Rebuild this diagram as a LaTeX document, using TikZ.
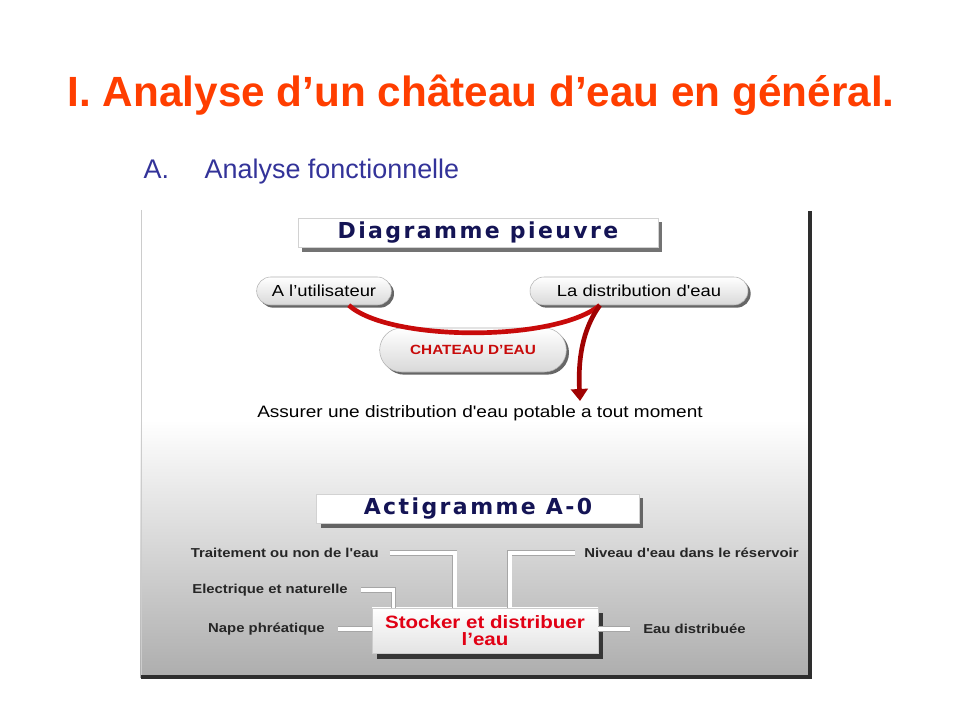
\documentclass[tikz,border=0pt]{standalone}
\usepackage{fontspec}
\setmainfont{Liberation Sans}
\newfontfamily\panelfont{Liberation Sans}[FakeStretch=1.15]
\newfontfamily\headfont{DejaVu Sans}[LetterSpace=11]
\usetikzlibrary{
    shadows,
    shapes.misc,
    arrows.meta,
    calc
}
\definecolor{titleorange}{RGB}{255,62,0}
\definecolor{subblue}{RGB}{51,51,153}
\definecolor{headnavy}{RGB}{20,20,85}
\definecolor{linkred}{RGB}{200,10,10}
\definecolor{darkred}{RGB}{150,0,0}
\definecolor{boxred}{RGB}{225,0,20}
\tikzset {
    head box/.style = {
        rectangle, fill = white, draw = gray!35, inner sep = 0pt,
        minimum height = 22pt, text = headnavy,
        font = \headfont\bfseries\fontsize{16.5}{17}\selectfont,
        drop shadow = {shadow xshift = 3pt, shadow yshift = -3pt,
            fill = black, opacity = .55}
    },
    pill/.style = {
        rounded rectangle, draw = gray!60, top color = white,
        bottom color = gray!30, minimum height = 21pt, inner sep = 0pt,
        font = \panelfont\fontsize{12}{12}\selectfont,
        drop shadow = {shadow xshift = 2pt, shadow yshift = -2pt,
            fill = black, opacity = .6}
    },
    func box/.style = {
        rectangle, draw = gray!40, top color = white,
        bottom color = gray!22, inner sep = 0pt, align = center,
        minimum width = 169.5pt, minimum height = 34pt, text = boxred,
        font = \panelfont\bfseries\fontsize{13.4}{13.2}\selectfont,
        drop shadow = {shadow xshift = 4pt, shadow yshift = -4pt,
            fill = black, opacity = .7}
    },
    io text/.style = {font = \panelfont\bfseries\fontsize{9.7}{10}\selectfont,
        text = black!85, inner sep = 0pt},
    pipe/.style = {draw = gray!70, double = white,
        double distance = 2.6pt, line width = .6pt},
    red link/.style = {draw = linkred, line width = 3.5pt}
}

\begin{document}
\begin{tikzpicture}[x = 0.75pt, y = -0.75pt]
    \useasboundingbox (0, 0) rectangle (960, 720);
    % heading
    \node (title) [anchor = base west, text = titleorange,
        font = \bfseries\fontsize{31.7}{32}\selectfont]
        at (63, 107) {I. Analyse d’un château d’eau en général.};
    \node (num) [anchor = base west, text = subblue,
        font = \fontsize{20.2}{21}\selectfont] at (139, 179) {A.};
    \node (sub) [anchor = base west, text = subblue,
        font = \fontsize{20.2}{21}\selectfont] at (200, 179)
        {Analyse fonctionnelle};
    % panel
    \fill [white] (140, 209) rectangle (811, 677);
    \shade [top color = white, bottom color = gray!64]
        (140, 420) rectangle (811, 677);
    \draw [gray!40, line width = .75pt] (141, 210) -- (141, 677);
    \draw [black!82, line width = 2.4pt] (810, 211) -- (810, 677) -- (141, 677);
    % diagramme pieuvre
    \node (pieuvre) [head box, minimum width = 270pt] at (478, 233)
        {Diagramme pieuvre};
    \node (user) [pill, minimum width = 101pt] at (324, 291)
        {A l’utilisateur};
    \node (distrib) [pill, minimum width = 163.5pt] at (639, 291)
        {La distribution d'eau};
    \node (chateau) [pill, minimum width = 140pt, minimum height = 33pt,
        text = linkred, font = \panelfont\bfseries\fontsize{10}{10}\selectfont]
        at (473, 350) {CHATEAU D’EAU};
    \node (goal) [font = \panelfont\fontsize{12.4}{12}\selectfont]
        at (480, 413) {Assurer une distribution d'eau potable a tout moment};
    \coordinate (tip) at (580, 401);
    \draw [red link] (user.-30) .. controls (390, 342) and (555, 342)
        .. (distrib.-160);
    \draw [red link, draw = darkred!80!linkred,
        arrows = {-Triangle[length = 9pt, width = 12.5pt]}]
        (distrib.-160) .. controls (582, 330) and (578, 360) .. (tip);
    % actigramme
    \node (acti) [head box, minimum width = 242pt] at (478, 509)
        {Actigramme A-0};
    \node (stock) [func box] at (485, 630.5) {Stocker et distribuer\\l’eau};
    \node (treat) [io text, anchor = east] at (379, 553)
        {Traitement ou non de l'eau};
    \node (elec) [io text, anchor = east] at (348, 590)
        {Electrique et naturelle};
    \node (nappe) [io text, anchor = east] at (325, 629)
        {Nape phréatique};
    \node (level) [io text, anchor = west] at (584, 553)
        {Niveau d'eau dans le réservoir};
    \node (out) [io text, anchor = west] at (643, 629)
        {Eau distribuée};
    \draw [pipe, shorten < = 8pt] (treat.east)
        -| ($(stock.north west)!.367!(stock.north east)$);
    \draw [pipe, shorten < = 10pt] (elec.east)
        -| ($(stock.north west)!.097!(stock.north east)$);
    \draw [pipe, shorten < = 10pt] (nappe.east) -- (nappe.east -| stock.west);
    \draw [pipe, shorten < = 7pt] (level.west)
        -| ($(stock.north west)!.61!(stock.north east)$);
    \draw [pipe, shorten > = 10pt] (out.west -| stock.east) -- (out.west);
\end{tikzpicture}
\end{document}
